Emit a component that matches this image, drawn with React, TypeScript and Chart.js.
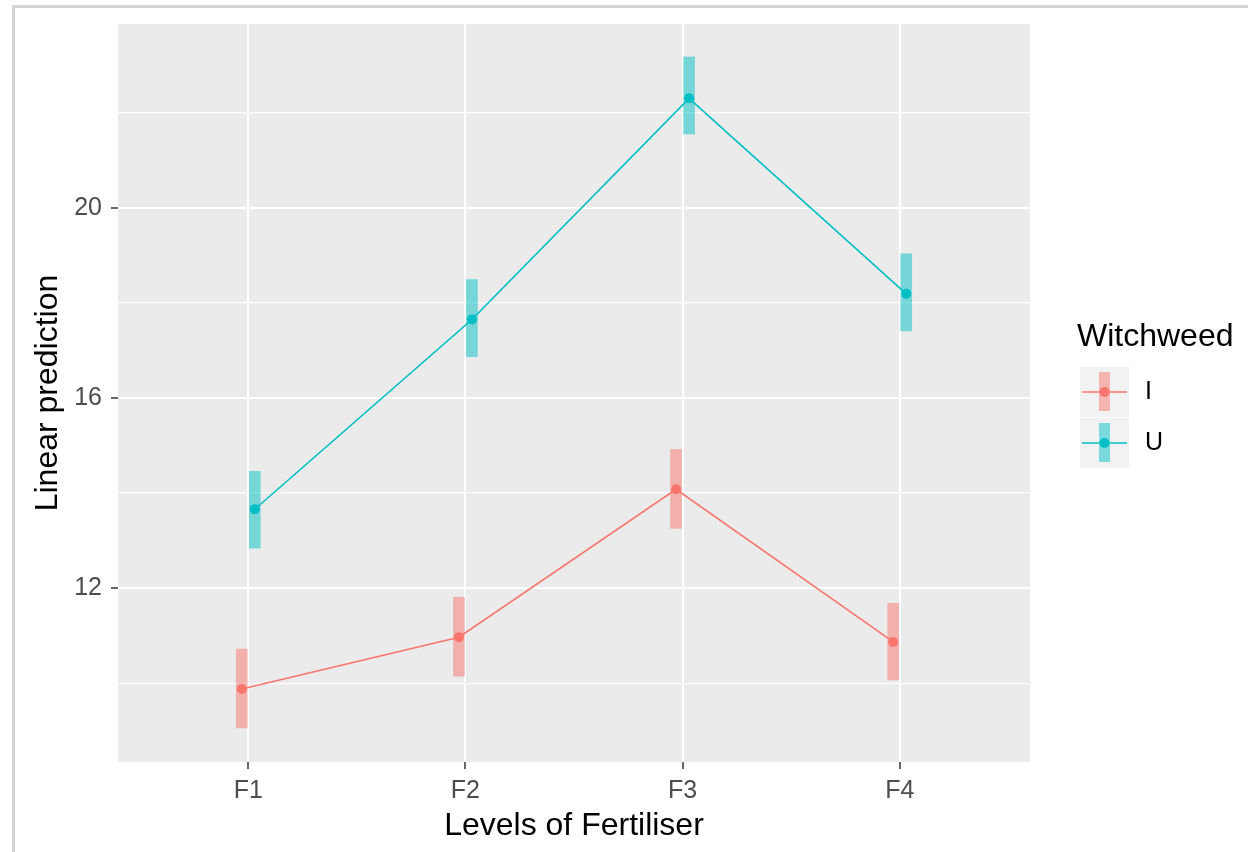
import React, { useEffect, useRef } from 'react';
import { Chart, registerables } from 'chart.js';

Chart.register(...registerables);

// ---- data ----
const categories = ['F1', 'F2', 'F3', 'F4'];
const seriesNames = ['I', 'U'];
const iMean = [9.88, 10.97, 14.08, 10.87];
const iLower = [9.06, 10.15, 13.26, 10.07];
const iUpper = [10.72, 11.81, 14.92, 11.68];
const uMean = [13.66, 17.65, 22.3, 18.19];
const uLower = [12.84, 16.87, 21.55, 17.41];
const uUpper = [14.46, 18.49, 23.17, 19.03];
const yGridTicks = [10, 12, 14, 16, 18, 20, 22];
const yLabelTicks = [12, 16, 20];

// ---- style ----
const W = 1248;
const H = 852;
const FONT = '"Liberation Sans", Arial, sans-serif';
const LINE_COLORS = ['#F8766D', '#00BFC4'];
const BAND_COLORS = ['rgba(248,118,109,0.5)', 'rgba(0,191,196,0.5)'];
const DODGE = [-0.03, 0.03];

const panelBg = {
  id: 'panelBg',
  beforeDraw(chart: any) {
    const { ctx, chartArea } = chart;
    ctx.save();
    ctx.fillStyle = '#EBEBEB';
    ctx.fillRect(chartArea.left, chartArea.top, chartArea.right - chartArea.left, chartArea.bottom - chartArea.top);
    ctx.restore();
  },
};

const ggLegend = {
  id: 'ggLegend',
  afterDraw(chart: any) {
    const { ctx } = chart;
    ctx.save();
    ctx.fillStyle = '#000';
    ctx.font = `32px ${FONT}`;
    ctx.textBaseline = 'middle';
    ctx.textAlign = 'left';
    ctx.fillText('Witchweed', 1077, 337);
    const keys = [
      { top: 367, h: 50 },
      { top: 418, h: 50 },
    ];
    seriesNames.forEach((name, i) => {
      const k = keys[i];
      const cx = 1104.5;
      const cy = k.top + k.h / 2;
      ctx.fillStyle = '#F2F2F2';
      ctx.fillRect(1080, k.top, 49, k.h);
      ctx.fillStyle = BAND_COLORS[i];
      ctx.fillRect(cx - 5.5, k.top + 5, 11, k.h - 11);
      ctx.strokeStyle = LINE_COLORS[i];
      ctx.lineWidth = 1.6;
      ctx.beginPath();
      ctx.moveTo(1082, cy);
      ctx.lineTo(1127, cy);
      ctx.stroke();
      ctx.fillStyle = LINE_COLORS[i];
      ctx.beginPath();
      ctx.arc(cx, cy, 5, 0, Math.PI * 2);
      ctx.fill();
      ctx.fillStyle = '#000';
      ctx.font = `25px ${FONT}`;
      ctx.fillText(name, 1145, cy);
    });
    ctx.restore();
  },
};

export default function App() {
  const ref = useRef<HTMLCanvasElement | null>(null);

  useEffect(() => {
    if (!ref.current) return;
    const means = [iMean, uMean];
    const lows = [iLower, uLower];
    const highs = [iUpper, uUpper];

    const bandSets = seriesNames.map((name, s) => ({
      type: 'bar' as const,
      label: name + ' CI',
      data: categories.map((_, i) => ({ x: i + 1 + DODGE[s], y: [lows[s][i], highs[s][i]] })),
      backgroundColor: BAND_COLORS[s],
      borderWidth: 0,
      barThickness: 11,
      grouped: false,
      order: 3,
    }));

    const lineSets = seriesNames.map((name, s) => ({
      type: 'scatter' as const,
      label: name,
      data: categories.map((_, i) => ({ x: i + 1 + DODGE[s], y: means[s][i] })),
      showLine: true,
      borderColor: LINE_COLORS[s],
      backgroundColor: LINE_COLORS[s],
      borderWidth: 1.6,
      pointRadius: 5,
      pointBorderWidth: 0,
      pointBackgroundColor: LINE_COLORS[s],
      order: 1,
    }));

    const chart = new Chart(ref.current, {
      type: 'scatter',
      data: { datasets: [...bandSets, ...lineSets] as any },
      options: {
        animation: false,
        responsive: false,
        maintainAspectRatio: false,
        layout: { padding: { top: 23, right: 218, left: 0, bottom: 0 } },
        plugins: { legend: { display: false }, tooltip: { enabled: false } },
        scales: {
          x: {
            type: 'linear',
            min: 0.4,
            max: 4.6,
            offset: false,
            afterBuildTicks: (scale: any) => {
              scale.ticks = categories.map((_, i) => ({ value: i + 1 }));
            },
            afterFit: (scale: any) => {
              scale.height = 90;
            },
            ticks: {
              autoSkip: false,
              maxRotation: 0,
              padding: 7,
              color: '#4D4D4D',
              font: { family: FONT, size: 25 },
              callback: (v: any) => categories[Math.round(Number(v)) - 1] ?? '',
            },
            grid: {
              offset: false,
              color: '#FFFFFF',
              lineWidth: 2,
              tickLength: 7,
              tickColor: '#333333',
              tickWidth: 1.5,
            },
            border: { display: false },
            title: {
              display: true,
              text: 'Levels of Fertiliser',
              color: '#000',
              font: { family: FONT, size: 32 },
              padding: { top: 0, bottom: 7 },
            },
          },
          y: {
            type: 'linear',
            min: 8.346,
            max: 23.863,
            afterBuildTicks: (scale: any) => {
              scale.ticks = yGridTicks.map((v) => ({ value: v }));
            },
            afterFit: (scale: any) => {
              scale.width = 118;
            },
            ticks: {
              autoSkip: false,
              padding: 9,
              color: '#4D4D4D',
              font: { family: FONT, size: 25 },
              callback: (v: any) => (yLabelTicks.includes(Number(v)) ? String(v) : ''),
            },
            grid: {
              color: '#FFFFFF',
              lineWidth: (c: any) => (c.tick && yLabelTicks.includes(c.tick.value) ? 2 : 1.2),
              tickLength: 7,
              tickColor: (c: any) => (c.tick && yLabelTicks.includes(c.tick.value) ? '#333333' : 'rgba(0,0,0,0)'),
              tickWidth: 1.5,
            },
            border: { display: false },
            title: {
              display: true,
              text: 'Linear prediction',
              color: '#000',
              font: { family: FONT, size: 32 },
              padding: { top: 29, bottom: 0 },
            },
          },
        },
      } as any,
      plugins: [panelBg, ggLegend],
    });
    return () => chart.destroy();
  }, []);

  return (
    <div style={{ position: 'fixed', left: 0, top: 0, width: W, height: H, background: '#fff', overflow: 'hidden' }}>
      <div
        style={{
          position: 'absolute',
          left: 12,
          top: 5,
          width: W + 40,
          height: H + 40,
          borderLeft: '3px solid #D4D4D4',
          borderTop: '3px solid #D4D4D4',
          boxSizing: 'border-box',
        }}
      />
      <canvas ref={ref} width={W} height={H} style={{ position: 'absolute', left: 0, top: 0, width: W, height: H }} />
    </div>
  );
}
